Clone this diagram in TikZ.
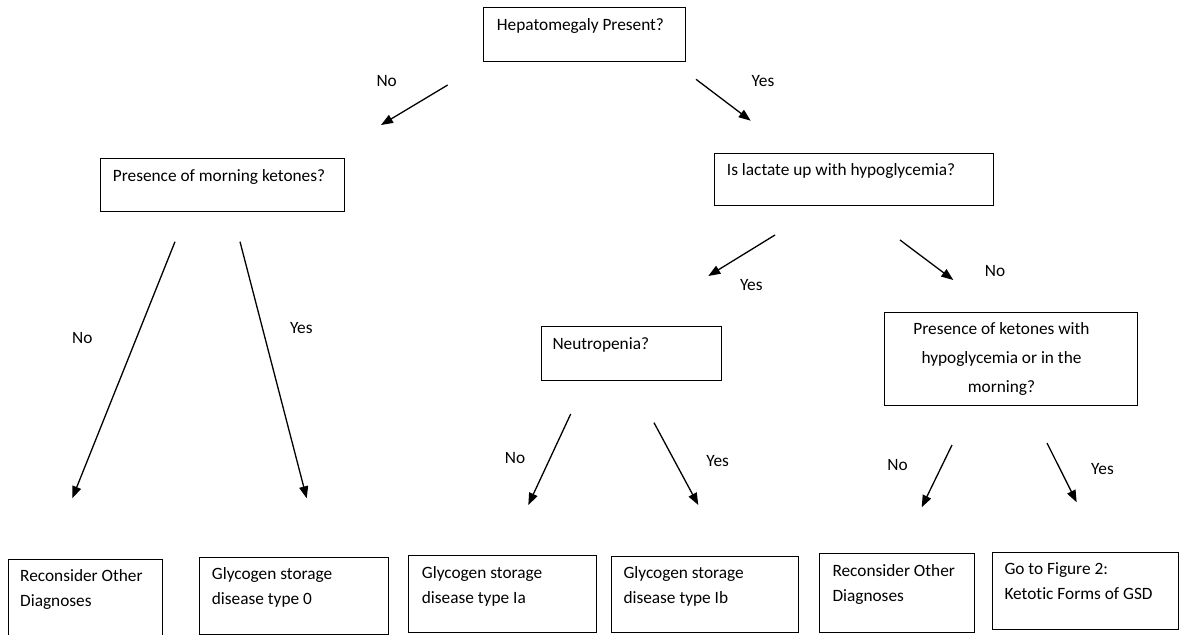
\documentclass[tikz,border=0pt]{standalone}
\usepackage{fontspec}
\setmainfont[Ligatures=NoCommon]{Carlito}
\usetikzlibrary{arrows.meta}
\newcommand\twolines[2]{\vtop{\hbox{#1}\hbox{#2}}}
\begin{document}
\begin{tikzpicture}[x=1pt,y=-1pt,
  font=\fontsize{17.3}{25}\selectfont,
  box/.style={draw=black, line width=1.1pt, inner sep=0pt, anchor=north west},
  txt/.style={anchor=base west, inner sep=0pt},
  lbl/.style={anchor=base, inner sep=0pt},
  arr/.style={-{Triangle[length=12pt,width=9pt]}, line width=1.3pt},
]
\useasboundingbox (0,0) rectangle (1179,635);
\clip (0,0) rectangle (1179,635);

% boxes
\node[box, minimum width=201.7, minimum height=53.7] (hep) at (483.3,7.3) {};
\node[box, minimum width=244.3, minimum height=52.7] (mk) at (100,158.3) {};
\node[box, minimum width=278.7, minimum height=52.3] (lac) at (714,152.7) {};
\node[box, minimum width=180, minimum height=54] (neu) at (540.7,326) {};
\node[box, minimum width=253.3, minimum height=93.3] (ket) at (884,311.7) {};
\node[box, minimum width=154, minimum height=95] (rl) at (8,559) {};
\node[box, minimum width=188.7, minimum height=77] (g0) at (199.3,557) {};
\node[box, minimum width=187.4, minimum height=76.7] (ga) at (408.3,555) {};
\node[box, minimum width=187, minimum height=76] (gb) at (611,556) {};
\node[box, minimum width=155, minimum height=79] (rr) at (819,553) {};
\node[box, minimum width=186.3, minimum height=76.7] (fig) at (991.7,552.3) {};

% box texts
\node[txt] (hep-t) at (496.7,30) {Hepatomegaly Present?};
\node[txt] (mk-t) at (112.7,181.7) {Presence of morning ketones?};
\node[txt] (lac-t) at (726.7,175) {Is lactate up with hypoglycemia?};
\node[txt] (neu-t) at (552.3,349) {Neutropenia?};
\node[lbl] (ket-t) at (1001.5,334) {\vtop{\baselineskip=29pt\halign{\hfil#\hfil\cr Presence of ketones with\cr hypoglycemia or in the\cr morning?\cr}}};
\node[txt] (rl-t) at (20,581.7) {\twolines{Reconsider Other}{Diagnoses}};
\node[txt] (g0-t) at (211.7,579.3) {\twolines{Glycogen storage}{disease type 0}};
\node[txt] (ga-t) at (421.7,578.3) {\twolines{Glycogen storage}{disease type Ia}};
\node[txt] (gb-t) at (623.3,578.3) {\twolines{Glycogen storage}{disease type Ib}};
\node[txt] (rr-t) at (832.3,576.7) {\twolines{Reconsider Other}{Diagnoses}};
\node[txt] (fig-t) at (1004.3,574) {\twolines{Go to Figure 2:}{Ketotic Forms of GSD}};

% arrow end points
\coordinate (a1s) at (447.7,85);   \coordinate (a1e) at (381,125);
\coordinate (a2s) at (696,79.3);   \coordinate (a2e) at (750.7,120.7);
\coordinate (a3s) at (175,241.7);  \coordinate (a3e) at (72.3,498.3);
\coordinate (a4s) at (240,241.7);  \coordinate (a4e) at (306.7,498.3);
\coordinate (a5s) at (775,235);    \coordinate (a5e) at (708.3,276);
\coordinate (a6s) at (900,240);    \coordinate (a6e) at (953.3,280);
\coordinate (a7s) at (570.7,414);  \coordinate (a7e) at (528.3,505);
\coordinate (a8s) at (654,422.7);  \coordinate (a8e) at (698.3,505);
\coordinate (a9s) at (952,445);    \coordinate (a9e) at (921.7,507.3);
\coordinate (a10s) at (1047,443);  \coordinate (a10e) at (1076.7,502.3);

\draw[arr] (a1s) -- (a1e);
\draw[arr] (a2s) -- (a2e);
\draw[arr] (a3s) -- (a3e);
\draw[arr] (a4s) -- (a4e);
\draw[arr] (a5s) -- (a5e);
\draw[arr] (a6s) -- (a6e);
\draw[arr] (a7s) -- (a7e);
\draw[arr] (a8s) -- (a8e);
\draw[arr] (a9s) -- (a9e);
\draw[arr] (a10s) -- (a10e);

% labels
\node[lbl] (l1) at (386.7,86) {No};
\node[lbl] (l2) at (763,86) {Yes};
\node[lbl] (l3) at (82.3,343.3) {No};
\node[lbl] (l4) at (301.3,333) {Yes};
\node[lbl] (l5) at (751.3,290) {Yes};
\node[lbl] (l6) at (995,276) {No};
\node[lbl] (l7) at (515,463.3) {No};
\node[lbl] (l8) at (717.7,466) {Yes};
\node[lbl] (l9) at (897.5,470.5) {No};
\node[lbl] (l10) at (1102.5,474) {Yes};
\end{tikzpicture}
\end{document}
